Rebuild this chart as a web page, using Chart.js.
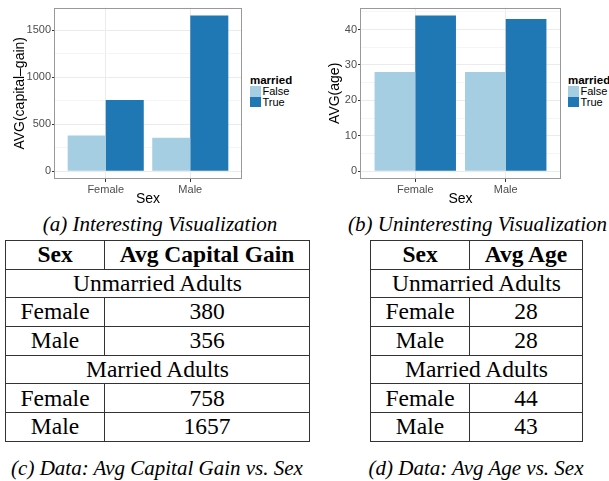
<!DOCTYPE html>
<html>
<head>
<meta charset="utf-8">
<script src="https://cdn.jsdelivr.net/npm/chart.js@4/dist/chart.umd.min.js"></script>
<style>
  html, body { margin: 0; padding: 0; background: #fff; }
  body { width: 609px; height: 481px; position: relative; overflow: hidden; }
  .plot { position: absolute; top: 0; height: 210px; }
  .legend { position: absolute; font-family: "Liberation Sans", Arial, sans-serif; color: #000; }
  .legend .title { font-weight: bold; font-size: 11.5px; line-height: 12px; margin-bottom: 0; }
  .legend .item { display: flex; align-items: center; height: 10.5px; font-size: 11px; }
  .legend .swatch { width: 11px; height: 10.5px; margin-right: 1.5px; }
  .caption { position: absolute; font-family: "Liberation Serif", "Times New Roman", serif; font-style: italic; font-size: 21px; line-height: 24px; white-space: nowrap; }
  table.data { position: absolute; border-collapse: collapse; font-family: "Liberation Serif", "Times New Roman", serif; font-size: 23.5px; top: 240px; }
  table.data td { border: 1px solid #333; padding: 0; text-align: center; height: 27.7px; line-height: 1; }
  table.data tr.head td { font-weight: bold; }
</style>
</head>
<body>
<div class="plot" id="wrap-gain" style="left:0;width:244px"><canvas id="chart-gain"></canvas></div>
<div class="legend" id="legend-gain" style="left:250px;top:74px"></div>
<div class="plot" id="wrap-age" style="left:300px;width:263px"><canvas id="chart-age"></canvas></div>
<div class="legend" id="legend-age" style="left:568px;top:74px"></div>

<div class="caption" style="left:10px;top:212px;width:300px;text-align:center">(a) Interesting Visualization</div>
<div class="caption" style="left:348px;top:212px">(b) Uninteresting Visualization</div>

<table class="data" id="table-gain" style="left:5px;width:305px"></table>
<table class="data" id="table-age" style="left:370px;width:213px"></table>

<div class="caption" style="left:7px;top:456px;width:300px;text-align:center">(c) Data: Avg Capital Gain vs. Sex</div>
<div class="caption" style="left:326px;top:456px;width:300px;text-align:center">(d) Data: Avg Age vs. Sex</div>

<script>
// Two ggplot-style grouped bar charts plus their data tables.

const categories = ["Female", "Male"];
const marriedLabels = ["False", "True"];

const gainUnmarried = [380, 356];
const gainMarried = [758, 1657];
const ageUnmarried = [28, 28];
const ageMarried = [44, 43];

const gainTicks = [0, 500, 1000, 1500];
const gainMinorTicks = [250, 750, 1250];
const ageTicks = [0, 10, 20, 30, 40];
const ageMinorTicks = [5, 15, 25, 35, 45];

const palette = {
  light: "#a6cee3",
  dark: "#1f78b4",
  gridMajor: "#ebebeb",
  gridMinor: "#f5f5f5",
  tick: "#333333",
  tickText: "#4d4d4d",
  border: "#999999",
};

const SANS = '"Liberation Sans", Arial, sans-serif';

const panelBorder = {
  id: "panelBorder",
  afterDraw(chart) {
    const { ctx, chartArea: a } = chart;
    ctx.save();
    ctx.strokeStyle = palette.border;
    ctx.lineWidth = 1;
    ctx.strokeRect(Math.round(a.left) - 0.5, Math.round(a.top) + 0.5,
      Math.round(a.right - a.left) + 1, Math.round(a.bottom - a.top) - 1);
    ctx.restore();
  },
};

function points(values) {
  return values.map((v, i) => ({ x: i + 1, y: v }));
}

function makeBarChart(canvasId, unmarried, married, majors, minors, yTitle, yAxisWidth, titlePad) {
  const allValues = unmarried.concat(married);
  const top = Math.max(...allValues);
  const expand = top * 0.05;
  const ticks = majors.concat(minors).sort((a, b) => a - b);
  return new Chart(document.getElementById(canvasId), {
    type: "bar",
    data: {
      datasets: [
        { label: marriedLabels[0], data: points(unmarried), backgroundColor: palette.light, borderWidth: 0 },
        { label: marriedLabels[1], data: points(married), backgroundColor: palette.dark, borderWidth: 0 },
      ],
    },
    options: {
      animation: false,
      responsive: true,
      maintainAspectRatio: false,
      categoryPercentage: 0.9,
      barPercentage: 1.0,
      layout: { padding: { top: 4, right: 3, bottom: 0, left: 0 } },
      scales: {
        x: {
          type: "linear",
          offset: false,
          min: 0.4,
          max: 2.6,
          afterBuildTicks: (scale) => { scale.ticks = categories.map((c, i) => ({ value: i + 1 })); },
          afterFit: (scale) => { scale.height = 31; },
          ticks: {
            color: palette.tickText,
            font: { family: SANS, size: 11 },
            padding: 1,
            maxRotation: 0,
            callback: (v) => categories[v - 1] ?? "",
          },
          grid: { color: palette.gridMajor, tickColor: palette.tick, tickLength: 3, offset: false },
          border: { display: false },
          title: { display: true, text: "Sex", color: "#000", font: { family: SANS, size: 14 }, padding: { top: 0, bottom: 2 } },
        },
        y: {
          min: -expand,
          max: top + expand,
          afterBuildTicks: (scale) => { scale.ticks = ticks.map((v) => ({ value: v })); },
          afterFit: (scale) => { scale.width = yAxisWidth; },
          ticks: {
            color: palette.tickText,
            font: { family: SANS, size: 11 },
            padding: 1,
            callback: (v) => (majors.includes(v) ? String(v) : ""),
          },
          grid: {
            color: (ctx) => (majors.includes(ctx.tick?.value) ? palette.gridMajor : palette.gridMinor),
            tickColor: (ctx) => (majors.includes(ctx.tick?.value) ? palette.tick : "rgba(0,0,0,0)"),
            tickLength: 3,
          },
          border: { display: false },
          title: { display: true, text: yTitle, color: "#000", font: { family: SANS, size: 14 }, padding: { top: titlePad, bottom: 0 } },
        },
      },
      plugins: { legend: { display: false }, tooltip: { enabled: false } },
    },
    plugins: [panelBorder],
  });
}

function buildLegend(el, chart) {
  el.innerHTML = '<div class="title">married</div>';
  chart.data.datasets.forEach((ds) => {
    const item = document.createElement("div");
    item.className = "item";
    item.innerHTML = `<span class="swatch" style="background:${ds.backgroundColor}"></span><span>${ds.label}</span>`;
    el.appendChild(item);
  });
}

function buildTable(el, header, unmarried, married) {
  const rows = [`<tr class="head"><td style="width:98px">Sex</td><td>${header}</td></tr>`];
  rows.push('<tr><td colspan="2">Unmarried Adults</td></tr>');
  categories.forEach((c, i) => rows.push(`<tr><td>${c}</td><td>${unmarried[i]}</td></tr>`));
  rows.push('<tr><td colspan="2">Married Adults</td></tr>');
  categories.forEach((c, i) => rows.push(`<tr><td>${c}</td><td>${married[i]}</td></tr>`));
  el.innerHTML = rows.join("");
}

const gainChart = makeBarChart("chart-gain", gainUnmarried, gainMarried, gainTicks, gainMinorTicks, "AVG(capital\u2013gain)", 55, 11.6);
const ageChart = makeBarChart("chart-age", ageUnmarried, ageMarried, ageTicks, ageMinorTicks, "AVG(age)", 61, 26.6);

buildLegend(document.getElementById("legend-gain"), gainChart);
buildLegend(document.getElementById("legend-age"), ageChart);
buildTable(document.getElementById("table-gain"), "Avg Capital Gain", gainUnmarried, gainMarried);
buildTable(document.getElementById("table-age"), "Avg Age", ageUnmarried, ageMarried);
</script>
</body>
</html>
